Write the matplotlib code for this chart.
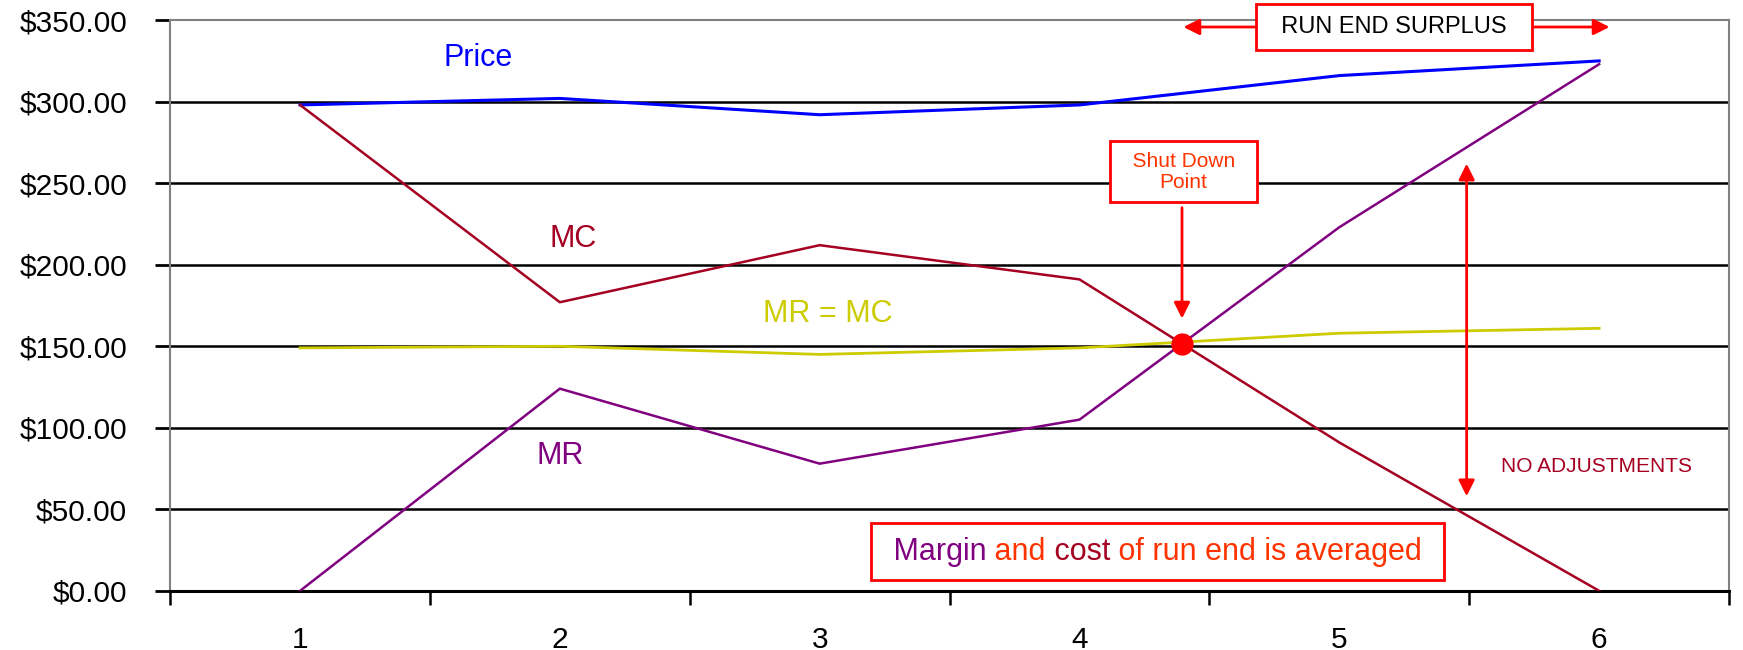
import numpy as np
import matplotlib.pyplot as plt
from matplotlib.ticker import FuncFormatter, FixedLocator

plt.rcParams['font.family'] = ['Liberation Sans', 'DejaVu Sans']

# Run positions and per-unit values
runs = [1, 2, 3, 4, 5, 6]
price = [298, 302, 292, 298, 316, 325]
mc = [298, 177, 212, 191, 91, 0]
mr = [0, 124, 78, 105, 223, 323]
mr_eq_mc = [149, 150, 145, 149, 158, 161]

dark_red = '#A50021'
purple = '#800080'
orange_red = '#FF3300'
yellow = '#CCCC00'

fig = plt.figure(figsize=(17.43, 6.5), dpi=100)
ax = fig.add_axes([0.0976, 0.091, 0.8944, 0.878])

ax.set_xlim(0.5, 6.5)
ax.set_ylim(0, 350)

# horizontal grid
for y in range(50, 301, 50):
    ax.axhline(y, color='black', lw=1.8, zorder=1)

ax.plot(runs, price, color='blue', lw=2.2, zorder=3)
ax.plot(runs, mc, color=dark_red, lw=1.8, zorder=3)
ax.plot(runs, mr, color=purple, lw=1.8, zorder=3)
ax.plot(runs, mr_eq_mc, color=yellow, lw=2, zorder=2)

# shut down point: where MC and MR cross between runs 4 and 5
i = 3
d0 = mc[i] - mr[i]
d1 = mc[i + 1] - mr[i + 1]
t = d0 / (d0 - d1)
sx = runs[i] + t
sy = mc[i] + t * (mc[i + 1] - mc[i])
ax.plot([sx], [sy], 'o', color='red', ms=15, zorder=5)

# axes styling
for side in ['left', 'top', 'right']:
    ax.spines[side].set_color('#808080')
    ax.spines[side].set_linewidth(1.5)
ax.spines['bottom'].set_color('black')
ax.spines['bottom'].set_linewidth(2.2)

ax.yaxis.set_major_locator(FixedLocator(range(0, 351, 50)))
ax.yaxis.set_major_formatter(FuncFormatter(lambda v, p: '${:,.2f}'.format(v)))
ax.tick_params(axis='y', direction='out', length=11, width=2, color='black',
               labelsize=21.5, pad=20)

ax.set_xticks(runs)
ax.set_xticklabels([str(r) for r in runs])
ax.set_xticks(np.arange(0.5, 6.6, 1), minor=True)
ax.tick_params(axis='x', which='major', length=0, labelsize=21.5, pad=25)
ax.tick_params(axis='x', which='minor', direction='out', length=10, width=1.8,
               color='black')

# series labels
ax.text(1.686, 327, 'Price', color='blue', fontsize=22, ha='center', va='center')
ax.text(2.05, 216, 'MC', color=dark_red, fontsize=22, ha='center', va='center')
ax.text(3.03, 170, 'MR = MC', color=yellow, fontsize=22, ha='center', va='center')
ax.text(2.0, 83, 'MR', color=purple, fontsize=22, ha='center', va='center')

arrow = dict(arrowstyle='-|>', color='red', lw=2, mutation_scale=24,
             shrinkA=0, shrinkB=0)

# shut down callout
ax.text(4.40, 257, '  Shut Down  \nPoint', color=orange_red, fontsize=15,
        ha='center', va='center', multialignment='center', linespacing=1.15,
        zorder=6,
        bbox=dict(boxstyle='square,pad=0.5', fc='white', ec='red', lw=2))
ax.annotate('', xy=(sx, 167), xytext=(sx, 235), arrowprops=arrow)

# run end surplus banner
ax.text(5.21, 345.8, '  RUN END SURPLUS  ', color='black', fontsize=17,
        ha='center', va='center', clip_on=False, zorder=6,
        bbox=dict(boxstyle='square,pad=0.5', fc='white', ec='red', lw=2))
ax.annotate('', xy=(4.40, 345.8), xytext=(4.68, 345.8), arrowprops=arrow,
            annotation_clip=False)
ax.annotate('', xy=(6.04, 345.8), xytext=(5.75, 345.8), arrowprops=arrow,
            annotation_clip=False)

# no adjustments span
ax.annotate('', xy=(5.49, 58), xytext=(5.49, 262),
            arrowprops=dict(arrowstyle='<|-|>', color='red', lw=2,
                            mutation_scale=24, shrinkA=0, shrinkB=0))
ax.text(5.99, 76, 'NO ADJUSTMENTS', color=dark_red, fontsize=15,
        ha='center', va='center')

# multi-coloured note in a red box
full = ax.text(4.30, 24, ' Margin and cost of run end is averaged ', color='none',
               fontsize=22, ha='center', va='center', zorder=6,
               bbox=dict(boxstyle='square,pad=0.45', fc='white', ec='red', lw=2))
parts = [(' Margin', purple), (' and', orange_red), (' cost', dark_red),
         (' of run end is averaged', orange_red)]
prev = full
anchor = (0, 0)
for s, c in parts:
    prev = ax.annotate(s, xy=anchor, xycoords=prev, ha='left', va='bottom',
                       color=c, fontsize=22, zorder=7)
    anchor = (1, 0)

fig.savefig('out.png', dpi=100)
